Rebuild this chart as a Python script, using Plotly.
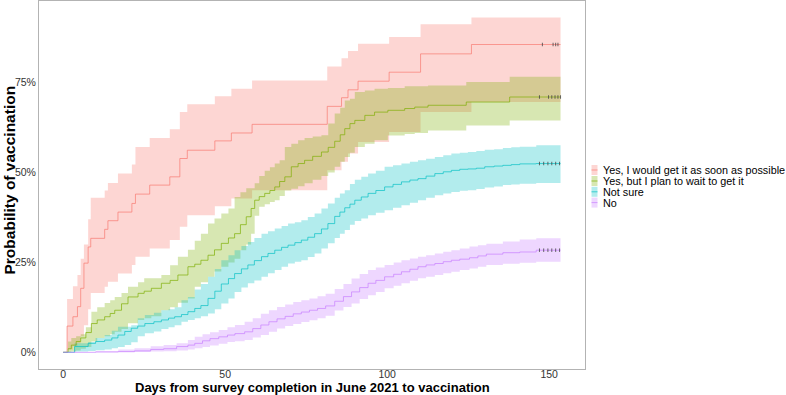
import plotly.graph_objects as go

# ---------------- data ----------------
GROUPS = ["Yes, I would get it as soon as possible",
          "Yes, but I plan to wait to get it",
          "Not sure",
          "No"]
COLORS = ["#F8766D", "#7CAE00", "#00BFC4", "#C77CFF"]
END_DAY = 153.5

red_t = [0, 1.2, 3.0, 4.4, 5.4, 6.4, 7.7, 8.5, 12.8, 13.8, 16.9, 21.2, 22.3, 26.7, 32.9, 36.0, 38.3,
         46.8, 51.9, 58.3, 81.5, 85.9, 87.9, 91.0, 100.6, 110.3, 126.0]
red_s = [0, .073, .099, .127, .178, .248, .293, .317, .342, .366, .39, .414, .44, .465, .488, .539, .562,
         .588, .61, .634, .684, .708, .73, .754, .779, .83, .856]
red_u = [0, .148, .184, .215, .26, .30, .37, .43, .45, .471, .497, .522, .571, .596, .62, .668, .69,
         .712, .733, .756, .795, .818, .838, .858, .877, .912, .931]
red_l = [0, .008, .017, .025, .045, .075, .12, .165, .182, .196, .219, .243, .266, .289, .312, .349, .381,
         .406, .428, .451, .506, .53, .553, .585, .613, .668, .696]

grn_t = [0, 1.5, 2.5, 4.0, 5.4, 7.0, 8.7, 10.5, 12.8, 14.5, 15.9, 18.0, 20.0, 23.1, 25.0, 27.2, 30.3,
         33.0, 35.4, 38.5, 40.6, 42.5, 44.7, 46.7, 48.8, 51.0, 52.9, 54.7, 56.5, 58.0, 59.1, 60.5, 62.2,
         63.8, 65.3, 66.8, 68.4, 70.4, 72.5, 74.5, 77.0, 79.7, 81.8, 83.8, 85.5, 86.9, 88.5, 90.0, 93.1,
         96.1, 100.2, 105.4, 108.5, 112.6, 124.4, 137.8]
grn_s = [0, .01, .02, .03, .04, .055, .08, .09, .099, .108, .117, .135, .154, .164, .17, .178, .192,
         .20, .215, .238, .245, .256, .27, .285, .303, .318, .33, .355, .377, .40, .423, .433, .442,
         .45, .46, .475, .488, .516, .525, .534, .545, .557, .57, .587, .605, .622, .636, .645, .659,
         .668, .673, .678, .682, .687, .696, .71]
grn_u = [0, .03, .04, .045, .05, .07, .113, .125, .137, .145, .154, .165, .182, .195, .206, .206, .215,
         .242, .266, .285, .31, .33, .358, .372, .386, .40, .432, .445, .456, .456, .47, .49, .505,
         .515, .525, .534, .571, .58, .59, .596, .60, .604, .636, .664, .68, .70, .705, .724, .728,
         .733, .735, .74, .74, .742, .752, .766]
grn_l = [0, 0, .002, .005, .01, .015, .03, .04, .045, .05, .057, .065, .081, .09, .095, .10, .117,
         .125, .138, .15, .182, .195, .21, .225, .238, .25, .26, .284, .30, .33, .38, .405, .412,
         .418, .423, .435, .45, .455, .462, .47, .48, .49, .50, .516, .53, .543, .555, .571, .58,
         .59, .603, .607, .61, .617, .631, .645]

cyn_t = [0, 3.5, 7.7, 10, 12.8, 15, 16.9, 19, 21, 23, 25.2, 28, 30.3, 32.5, 34.4, 36.5, 38.5, 40.6,
         42.5, 44.7, 46.8, 48.8, 51, 52.9, 55, 57, 59, 61.2, 63.2, 65.3, 67.4, 69.4, 71.5, 73.5, 75.5,
         77.6, 79.7, 81.7, 83.8, 85.4, 86.9, 88.5, 90, 92, 94.1, 96.5, 99.2, 101.8, 104.4, 107, 109.5,
         112, 114.7, 117.3, 119.8, 122.4, 124.9, 127.5, 130.1, 133, 135.7, 138.3, 140.9, 146]
cyn_s = [0, .016, .025, .03, .034, .04, .048, .058, .067, .073, .08, .085, .09, .095, .099, .105, .113,
         .122, .13, .15, .17, .19, .205, .219, .232, .243, .255, .266, .275, .284, .292, .298, .305,
         .312, .32, .33, .343, .358, .378, .39, .402, .412, .423, .432, .442, .45, .46, .467, .474,
         .479, .483, .49, .497, .502, .506, .509, .51, .512, .516, .518, .52, .522, .524, .525]
cyn_u = [0, .025, .029, .04, .048, .06, .071, .071, .075, .095, .104, .11, .117, .12, .125, .145, .154,
         .175, .19, .21, .232, .256, .27, .284, .296, .307, .318, .33, .337, .344, .351, .358, .362,
         .367, .376, .386, .40, .414, .43, .442, .451, .468, .48, .488, .497, .505, .516, .52, .525,
         .53, .534, .538, .543, .548, .553, .555, .557, .56, .563, .565, .568, .57, .572, .576]
cyn_l = [0, .002, .004, .006, .008, .011, .015, .02, .028, .045, .053, .058, .065, .07, .075, .085, .09,
         .095, .10, .108, .12, .136, .15, .168, .18, .192, .20, .21, .22, .229, .238, .247, .252,
         .256, .265, .275, .289, .303, .318, .33, .34, .355, .365, .372, .381, .388, .395, .402, .409,
         .416, .423, .43, .437, .442, .446, .449, .451, .454, .458, .461, .465, .467, .469, .471]

pur_t = [0, 10, 17, 22, 27, 31, 35, 38.5, 40.6, 43, 45.3, 48, 50.7, 53, 56, 58.5, 61, 63.5, 66, 68.5,
         71, 73.5, 76, 78.5, 81, 83.8, 86.5, 89, 91.5, 94.1, 96.5, 99.2, 102, 104.4, 107, 109.5, 112,
         114.7, 117.3, 119.8, 122.4, 125.4, 128, 130.6, 135.7, 140.9, 146]
pur_s = [0, .001, .002, .004, .008, .01, .016, .02, .025, .032, .038, .043, .048, .052, .057, .066,
         .076, .085, .093, .10, .107, .112, .117, .122, .129, .142, .155, .168, .18, .192, .20, .21,
         .217, .224, .231, .238, .243, .247, .252, .256, .259, .263, .268, .273, .277, .279, .284]
pur_u = [0, .003, .008, .011, .017, .02, .025, .034, .043, .05, .056, .062, .07, .076, .085, .095,
         .107, .117, .126, .133, .14, .145, .15, .156, .163, .176, .19, .205, .218, .229, .236, .243,
         .25, .256, .261, .266, .27, .275, .28, .284, .289, .294, .298, .302, .308, .314, .317]
pur_l = [0, 0, 0, .001, .002, .003, .005, .008, .011, .015, .019, .024, .029, .031, .034, .041,
         .048, .057, .066, .073, .079, .084, .089, .095, .102, .116, .126, .136, .148, .159, .168, .178,
         .185, .192, .199, .206, .21, .215, .22, .224, .229, .233, .238, .243, .246, .249, .252]

censor_days = [
    [147.9, 151.2, 152.0, 152.7],
    [147.0, 149.8, 150.8, 151.8, 152.7, 153.5],
    [147.0, 148.3, 149.6, 150.8, 152.0, 153.2],
    [147.0, 148.3, 149.6, 150.8, 152.0, 153.2],
]

X_TICKS = [0, 50, 100, 150]
Y_TICKS = [0, 0.25, 0.5, 0.75]
Y_TICK_TEXT = ["0%", "25%", "50%", "75%"]
X_TITLE = "Days from survey completion in June 2021 to vaccination"
Y_TITLE = "Probability of vaccination"

series = [(red_t, red_s, red_u, red_l), (grn_t, grn_s, grn_u, grn_l),
          (cyn_t, cyn_s, cyn_u, cyn_l), (pur_t, pur_s, pur_u, pur_l)]

FONT = "Liberation Sans, Arial, Helvetica, sans-serif"


def rgba(hx, a):
    hx = hx.lstrip('#')
    r, g, b = int(hx[0:2], 16), int(hx[2:4], 16), int(hx[4:6], 16)
    return f"rgba({r},{g},{b},{a})"


def ext(t, v):
    return list(t) + [END_DAY], list(v) + [v[-1]]


fig = go.Figure()

# ribbons
for (t, s, u, l), col in zip(series, COLORS):
    tx, ux = ext(t, u)
    _, lx = ext(t, l)
    fig.add_trace(go.Scatter(x=tx, y=ux, mode="lines", line=dict(width=0, shape="hv"),
                             showlegend=False, hoverinfo="skip"))
    fig.add_trace(go.Scatter(x=tx, y=lx, mode="lines", line=dict(width=0, shape="hv"),
                             fill="tonexty", fillcolor=rgba(col, 0.3),
                             showlegend=False, hoverinfo="skip"))

# survival lines
for (t, s, u, l), col, name in zip(series, COLORS, GROUPS):
    tx, sx = ext(t, s)
    fig.add_trace(go.Scatter(x=tx, y=sx, mode="lines", name=name,
                             line=dict(width=0.8, shape="hv", color=rgba(col, 0.85)),
                             showlegend=False))

# censor marks
for (t, s, u, l), days in zip(series, censor_days):
    fig.add_trace(go.Scatter(x=days, y=[s[-1]] * len(days), mode="markers",
                             marker=dict(symbol="line-ns", size=2.5,
                                         line=dict(width=0.8, color="#444444")),
                             showlegend=False, hoverinfo="skip"))

# geometry helpers (paper coords)
L, R, T, B = 39, 201, 1, 26
W, H = 786, 395
PW, PH = W - L - R, H - T - B


def px_x(px):
    return (px - L) / PW


def px_y(py):
    return (H - B - py) / PH


shapes = []
annotations = []

# manual legend
row_y = [170, 181, 191.8, 202.6]
for name, col, yc in zip(GROUPS, COLORS, row_y):
    shapes.append(dict(type="rect", xref="paper", yref="paper",
                       x0=px_x(591.5), x1=px_x(597.5), y0=px_y(yc + 5), y1=px_y(yc - 5),
                       fillcolor=rgba(col, 0.3), line=dict(width=0)))
    shapes.append(dict(type="line", xref="paper", yref="paper",
                       x0=px_x(591.5), x1=px_x(597.5), y0=px_y(yc), y1=px_y(yc),
                       line=dict(width=0.8, color=rgba(col, 0.85))))
    annotations.append(dict(text=name, xref="paper", yref="paper", x=px_x(600.5), y=px_y(yc),
                            xanchor="left", yanchor="middle", showarrow=False,
                            font=dict(size=10.8, color="#000000", family=FONT)))

# axis titles
annotations.append(dict(text=f"<b>{X_TITLE}</b>", xref="paper", yref="paper",
                        x=0.5, y=px_y(387.5), xanchor="center", yanchor="middle", showarrow=False,
                        font=dict(size=13, color="#000000", family=FONT)))
annotations.append(dict(text=f"<b>{Y_TITLE}</b>", xref="paper", yref="paper",
                        x=px_x(8.5), y=px_y(180), xanchor="center", yanchor="middle", showarrow=False,
                        textangle=-90, font=dict(size=15.5, color="#000000", family=FONT)))

fig.update_layout(
    width=W, height=H,
    margin=dict(l=L, r=R, t=T, b=B, autoexpand=False),
    paper_bgcolor="white", plot_bgcolor="white",
    showlegend=False,
    font=dict(family=FONT),
    shapes=shapes, annotations=annotations,
    xaxis=dict(range=[-7.47, 161.05], tickvals=X_TICKS, ticktext=[str(v) for v in X_TICKS],
               showgrid=False, zeroline=False, showline=True, linecolor="#B3B3B3", linewidth=1,
               mirror=True, ticks="", ticklabelstandoff=-5,
               tickfont=dict(size=10.5, color="#333333", family=FONT)),
    yaxis=dict(range=[-0.0464, 0.977], tickvals=Y_TICKS, ticktext=Y_TICK_TEXT,
               showgrid=False, zeroline=False, showline=True, linecolor="#B3B3B3", linewidth=1,
               mirror=True, ticks="", tickfont=dict(size=10.5, color="#333333", family=FONT)),
)

fig.write_html("out.html", config={"displayModeBar": False},
               post_script="document.body.style.margin='0px';document.body.style.padding='0px';")
